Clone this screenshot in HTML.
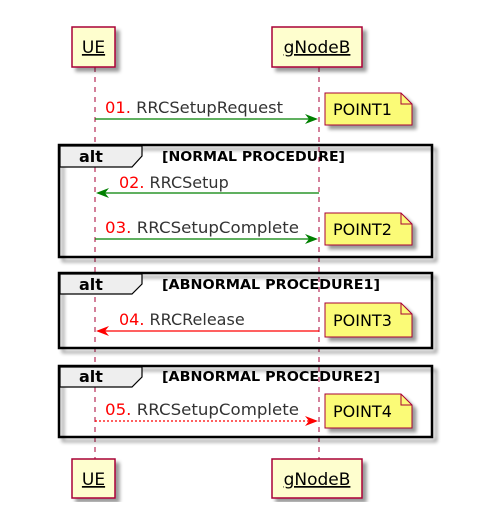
<!DOCTYPE html>
<html><head><style>
html,body{margin:0;padding:0;background:#fff;}
text{font-family:"DejaVu Sans","Liberation Sans",sans-serif;}
</style></head><body>
<svg width="498" height="502" viewBox="0 0 498 502" xmlns="http://www.w3.org/2000/svg">
<defs>
<filter id="sh" x="-20%" y="-20%" width="150%" height="150%"><feGaussianBlur in="SourceAlpha" stdDeviation="1.8"/><feOffset dx="4" dy="4"/><feComponentTransfer><feFuncA type="linear" slope="0.4"/></feComponentTransfer><feMerge><feMergeNode/><feMergeNode in="SourceGraphic"/></feMerge></filter>
</defs>
<line x1="95" y1="67" x2="95" y2="459" stroke="#A80036" stroke-dasharray="5,5"/>
<line x1="319" y1="67" x2="319" y2="459" stroke="#A80036" stroke-dasharray="5,5"/>
<g filter="url(#sh)">
<rect x="72" y="27" width="43" height="40" fill="#FEFECE" stroke="#A80036" stroke-width="1.5"/>
<rect x="272" y="27" width="90" height="40" fill="#FEFECE" stroke="#A80036" stroke-width="1.5"/>
<rect x="72" y="459" width="43" height="39" fill="#FEFECE" stroke="#A80036" stroke-width="1.5"/>
<rect x="272" y="459" width="90" height="39" fill="#FEFECE" stroke="#A80036" stroke-width="1.5"/>
</g>
<g font-size="17" fill="#000">
<text x="93.5" y="53" text-anchor="middle" text-decoration="underline">UE</text>
<text x="317" y="53" text-anchor="middle" text-decoration="underline">gNodeB</text>
<text x="93.5" y="485" text-anchor="middle" text-decoration="underline">UE</text>
<text x="317" y="485" text-anchor="middle" text-decoration="underline">gNodeB</text>
</g>
<g filter="url(#sh)" fill="none" stroke="#000" stroke-width="2.5">
<rect x="59" y="145" width="373" height="112"/>
<rect x="59" y="273" width="373" height="75"/>
<rect x="59" y="366" width="373" height="71"/>
</g>
<g fill="#EEEEEE" stroke="#000" stroke-width="1.2">
<path d="M60,146 H142 V156 L132,167 H60 Z"/>
<path d="M60,274 H142 V284 L132,294 H60 Z"/>
<path d="M60,367 H142 V377 L132,387 H60 Z"/>
</g>
<g font-size="16" font-weight="bold" fill="#000">
<text x="79" y="162">alt</text>
<text x="79" y="290">alt</text>
<text x="79" y="382">alt</text>
</g>
<g font-size="13.5" font-weight="bold" fill="#000">
<text x="162" y="161" textLength="183" lengthAdjust="spacingAndGlyphs">[NORMAL PROCEDURE]</text>
<text x="162" y="289" textLength="218" lengthAdjust="spacingAndGlyphs">[ABNORMAL PROCEDURE1]</text>
<text x="162" y="381" textLength="218" lengthAdjust="spacingAndGlyphs">[ABNORMAL PROCEDURE2]</text>
</g>
<g stroke-width="1.3">
<line x1="95" y1="119" x2="316" y2="119" stroke="#008000"/>
<path d="M305,114 L318,119 L305,124 L309,119 Z" fill="#008000"/>
<line x1="98" y1="193" x2="319" y2="193" stroke="#008000"/>
<path d="M109,188 L96,193 L109,198 L105,193 Z" fill="#008000"/>
<line x1="95" y1="239" x2="316" y2="239" stroke="#008000"/>
<path d="M305,234 L318,239 L305,244 L309,239 Z" fill="#008000"/>
<line x1="98" y1="331" x2="319" y2="331" stroke="#FF0000"/>
<path d="M109,326 L96,331 L109,336 L105,331 Z" fill="#FF0000"/>
<line x1="95" y1="421" x2="316" y2="421" stroke="#FF0000" stroke-dasharray="2,2"/>
<path d="M305,416 L318,421 L305,426 L309,421 Z" fill="#FF0000"/>
</g>
<g font-size="16" fill="#333">
<text x="105" y="113" textLength="178" lengthAdjust="spacingAndGlyphs"><tspan fill="#FF0000">01.</tspan> RRCSetupRequest</text>
<text x="119" y="188"><tspan fill="#FF0000">02.</tspan> RRCSetup</text>
<text x="105" y="233" textLength="194" lengthAdjust="spacingAndGlyphs"><tspan fill="#FF0000">03.</tspan> RRCSetupComplete</text>
<text x="119" y="325"><tspan fill="#FF0000">04.</tspan> RRCRelease</text>
<text x="105" y="415" textLength="194" lengthAdjust="spacingAndGlyphs"><tspan fill="#FF0000">05.</tspan> RRCSetupComplete</text>
</g>
<g filter="url(#sh)" fill="#FBFB77" stroke="#A80036" stroke-width="1">
<path d="M325,93 H401 L412,104 V125 H325 Z"/>
<path d="M325,213 H401 L412,224 V245 H325 Z"/>
<path d="M325,303 H401 L412,314 V337 H325 Z"/>
<path d="M325,394 H401 L412,405 V428 H325 Z"/>
</g>
<g fill="none" stroke="#A80036" stroke-width="1">
<path d="M401,93 V104 H412"/><path d="M401,213 V224 H412"/><path d="M401,303 V314 H412"/><path d="M401,394 V405 H412"/>
</g>
<g font-size="16" fill="#000">
<text x="333" y="115">POINT1</text>
<text x="333" y="235">POINT2</text>
<text x="333" y="326">POINT3</text>
<text x="333" y="417">POINT4</text>
</g>
</svg>
</body></html>
